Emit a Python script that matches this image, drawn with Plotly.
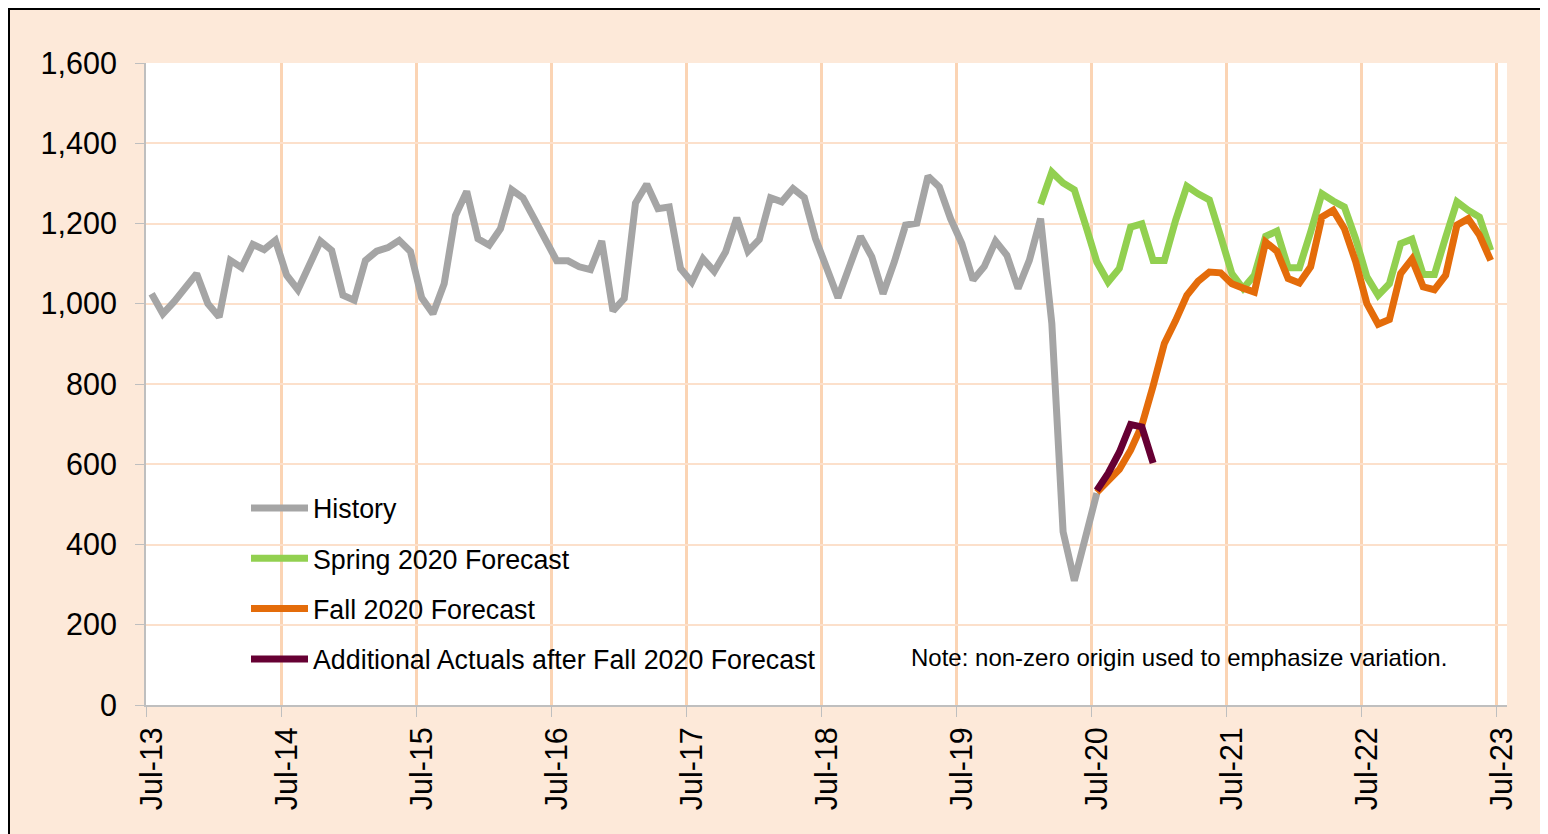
import pandas as pd
import plotly.graph_objects as go

# Monthly categories Jul-13 .. Jul-23
months = list(pd.date_range("2013-07-01", "2023-07-01", freq="MS").strftime("%b-%y"))
tick_labels = ["Jul-13", "Jul-14", "Jul-15", "Jul-16", "Jul-17", "Jul-18",
               "Jul-19", "Jul-20", "Jul-21", "Jul-22", "Jul-23"]

history = [1025, 975, 1005, 1040, 1075, 1000, 967, 1108, 1090, 1148, 1135, 1158,
           1071, 1035, 1095, 1156, 1133, 1021, 1009, 1108, 1131, 1140, 1158, 1130,
           1015, 975, 1050, 1220, 1280, 1162, 1146, 1187, 1284, 1264, 1212, 1160,
           1107, 1107, 1092, 1085, 1156, 982, 1013, 1251, 1298, 1237, 1241, 1088,
           1054, 1112, 1081, 1129, 1214, 1131, 1160, 1264, 1254, 1287, 1265, 1162,
           1085, 1015, 1092, 1168, 1117, 1025, 1104, 1196, 1201, 1318, 1291, 1212,
           1150, 1059, 1093, 1156, 1121, 1038, 1108, 1212, 951, 432, 310, 423,
           528]
history_months = months[0:85]

spring = [1248, 1328, 1301, 1284, 1196, 1104, 1054, 1088, 1191, 1199, 1108, 1108,
          1208, 1293, 1274, 1259, 1168, 1075, 1038, 1071, 1168, 1181, 1090, 1090,
          1179, 1274, 1256, 1241, 1162, 1067, 1021, 1050, 1150, 1161, 1073, 1073,
          1166, 1254, 1233, 1216, 1133]
spring_months = months[79:120]

fall = [530, 560, 587, 635, 697, 795, 901, 958, 1021, 1056, 1079, 1077,
        1050, 1039, 1029, 1154, 1131, 1063, 1052, 1092, 1216, 1233, 1187, 1105,
        1000, 949, 961, 1075, 1111, 1042, 1035, 1071, 1196, 1212, 1171, 1108]
fall_months = months[84:120]

actuals = [535, 577, 630, 699, 693, 603]
actuals_months = months[84:90]

FONT = "Arial, Liberation Sans, sans-serif"
BG = "#FDE9D9"
GRID_V = "#FBD4B4"
GRID_H = "#FCE0CB"
AXIS = "#BFBFBF"

fig = go.Figure()
series = [
    ("History", history_months, history, "#A5A5A5"),
    ("Spring 2020 Forecast", spring_months, spring, "#92D050"),
    ("Fall 2020 Forecast", fall_months, fall, "#E46C0A"),
    ("Additional Actuals after Fall 2020 Forecast", actuals_months, actuals, "#660033"),
]
for i, (name, xs, ys, col) in enumerate(series):
    fig.add_trace(go.Scatter(x=xs, y=ys, name=name, mode="lines",
                             line=dict(color=col, width=7),
                             legendgroup=str(i)))

# page body has an 8px margin; figure sized so it ends at the window edge
OFF = 8
W, H = 1540, 826
L, R, T, B = 138, 41, 55, 129
pw, ph = W - L - R, H - T - B

def px_x(xs):  # screen pixel -> paper
    return (xs - OFF - L) / pw

def px_y(ys):
    return (H - B - (ys - OFF)) / ph

fig.update_layout(
    width=W, height=H,
    margin=dict(l=L, r=R, t=T, b=B, pad=0),
    paper_bgcolor=BG, plot_bgcolor="white",
    font=dict(family=FONT, color="black"),
    showlegend=True,
    legend=dict(
        x=px_x(246), y=px_y(484), xanchor="left", yanchor="top",
        bgcolor="rgba(0,0,0,0)", borderwidth=0,
        font=dict(size=26.8, family=FONT),
        traceorder="grouped", tracegroupgap=12.5, itemwidth=57,
    ),
    xaxis=dict(
        type="category", categoryorder="array", categoryarray=months,
        range=[-0.5, len(months) - 0.55],
        tickmode="array", tickvals=tick_labels, ticktext=tick_labels,
        tickson="boundaries", tickangle=-90,
        ticks="outside", ticklen=10, tickcolor=AXIS, tickwidth=1,
        showgrid=True, gridcolor=GRID_V, gridwidth=2.5,
        showline=True, linecolor=AXIS, linewidth=2,
        tickfont=dict(size=30.5, family=FONT),
        ticklabelstandoff=8,
        zeroline=False,
    ),
    yaxis=dict(
        range=[0, 1600], dtick=200, tick0=0, tickformat=",d",
        ticks="outside", ticklen=9, tickcolor=AXIS, tickwidth=1,
        showgrid=True, gridcolor=GRID_H, gridwidth=1.5,
        showline=True, linecolor=AXIS, linewidth=2,
        tickfont=dict(size=30.5, family=FONT),
        ticklabelstandoff=12,
        zeroline=False,
    ),
    shapes=[
        dict(type="rect", xref="paper", yref="paper",
             x0=px_x(175), x1=px_x(892), y0=px_y(683), y1=px_y(485),
             fillcolor="white", line=dict(width=0), layer="between"),
        dict(type="rect", xref="paper", yref="paper",
             x0=px_x(9), x1=px_x(1600), y0=px_y(900), y1=px_y(9),
             fillcolor="rgba(0,0,0,0)", line=dict(color="black", width=2),
             layer="above"),
    ],
    annotations=[
        dict(text="Note: non-zero origin used to emphasize variation.",
             xref="paper", yref="paper", x=px_x(909), y=px_y(657),
             xanchor="left", yanchor="middle", showarrow=False,
             font=dict(size=24, family=FONT, color="black")),
    ],
)

fig.write_html("out.html")
